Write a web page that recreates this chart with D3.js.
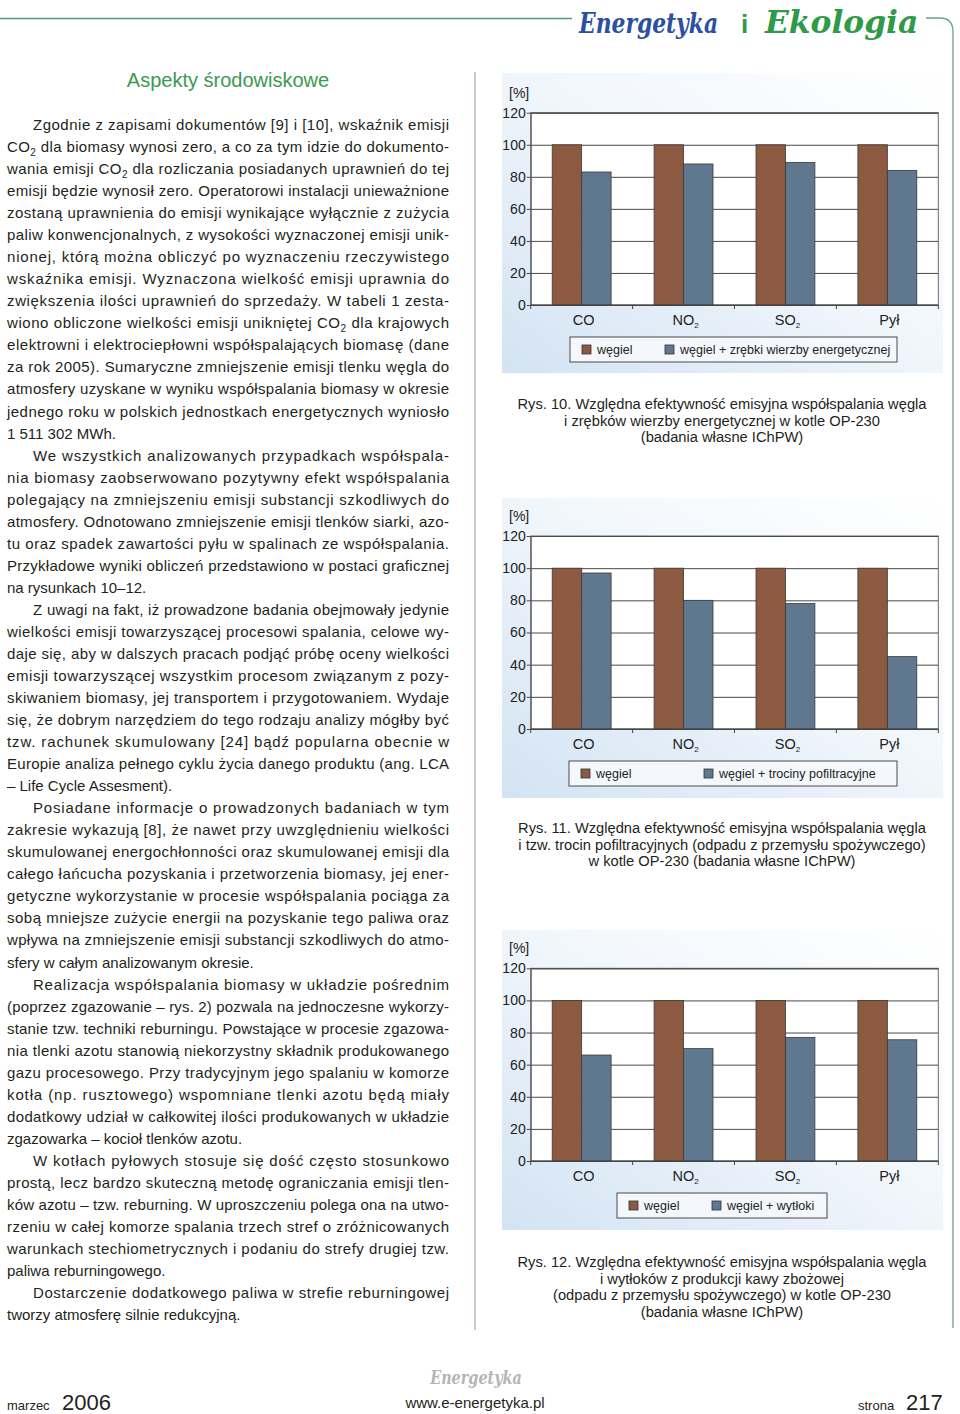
<!DOCTYPE html>
<html>
<head>
<meta charset="utf-8">
<script src="https://cdn.jsdelivr.net/npm/d3@7"></script>
<style>
  body { margin: 0; background: #fff; }
  svg { display: block; font-family: "Liberation Sans", Arial, sans-serif; }
</style>
</head>
<body>
<svg id="page" width="960" height="1414"></svg>
<script>
// chart data
const categories = ['CO', 'NO2', 'SO2', 'Pył'];
const yTicks = [0, 20, 40, 60, 80, 100, 120];
const coal = [100, 100, 100, 100];
const willowChips = [83, 88, 89, 84];
const filterSawdust = [97, 80, 78, 45];
const coffeePomace = [66, 70, 77, 75.5];

const seriesNames = ['węgiel', 'mix'];
const brown = '#8b5a41';
const blue = '#5f7890';

// body text lines of the left column (a = justified line, i = indented first line, e = paragraph end)
const bodyLines = [
  ['i', 'Zgodnie z zapisami dokumentów [9] i [10], wskaźnik emisji'],
  ['a', 'CO_2 dla biomasy wynosi zero, a co za tym idzie do dokumento-'],
  ['a', 'wania emisji CO_2 dla rozliczania posiadanych uprawnień do tej'],
  ['a', 'emisji będzie wynosił zero. Operatorowi instalacji unieważnione'],
  ['a', 'zostaną uprawnienia do emisji wynikające wyłącznie z zużycia'],
  ['a', 'paliw konwencjonalnych, z wysokości wyznaczonej emisji unik-'],
  ['a', 'nionej, którą można obliczyć po wyznaczeniu rzeczywistego'],
  ['a', 'wskaźnika emisji. Wyznaczona wielkość emisji uprawnia do'],
  ['a', 'zwiększenia ilości uprawnień do sprzedaży. W tabeli 1 zesta-'],
  ['a', 'wiono obliczone wielkości emisji unikniętej CO_2 dla krajowych'],
  ['a', 'elektrowni i elektrociepłowni współspalających biomasę (dane'],
  ['a', 'za rok 2005). Sumaryczne zmniejszenie emisji tlenku węgla do'],
  ['a', 'atmosfery uzyskane w wyniku współspalania biomasy w okresie'],
  ['a', 'jednego roku w polskich jednostkach energetycznych wyniosło'],
  ['e', '1 511 302 MWh.'],
  ['i', 'We wszystkich analizowanych przypadkach współspala-'],
  ['a', 'nia biomasy zaobserwowano pozytywny efekt współspalania'],
  ['a', 'polegający na zmniejszeniu emisji substancji szkodliwych do'],
  ['a', 'atmosfery. Odnotowano zmniejszenie emisji tlenków siarki, azo-'],
  ['a', 'tu oraz spadek zawartości pyłu w spalinach ze współspalania.'],
  ['a', 'Przykładowe wyniki obliczeń przedstawiono w postaci graficznej'],
  ['e', 'na rysunkach 10–12.'],
  ['i', 'Z uwagi na fakt, iż prowadzone badania obejmowały jedynie'],
  ['a', 'wielkości emisji towarzyszącej procesowi spalania, celowe wy-'],
  ['a', 'daje się, aby w dalszych pracach podjąć próbę oceny wielkości'],
  ['a', 'emisji towarzyszącej wszystkim procesom związanym z pozy-'],
  ['a', 'skiwaniem biomasy, jej transportem i przygotowaniem. Wydaje'],
  ['a', 'się, że dobrym narzędziem do tego rodzaju analizy mógłby być'],
  ['a', 'tzw. rachunek skumulowany [24] bądź popularna obecnie w'],
  ['a', 'Europie analiza pełnego cyklu życia danego produktu (ang. LCA'],
  ['e', '– Life Cycle Assesment).'],
  ['i', 'Posiadane informacje o prowadzonych badaniach w tym'],
  ['a', 'zakresie wykazują [8], że nawet przy uwzględnieniu wielkości'],
  ['a', 'skumulowanej energochłonności oraz skumulowanej emisji dla'],
  ['a', 'całego łańcucha pozyskania i przetworzenia biomasy, jej ener-'],
  ['a', 'getyczne wykorzystanie w procesie współspalania pociąga za'],
  ['a', 'sobą mniejsze zużycie energii na pozyskanie tego paliwa oraz'],
  ['a', 'wpływa na zmniejszenie emisji substancji szkodliwych do atmo-'],
  ['e', 'sfery w całym analizowanym okresie.'],
  ['i', 'Realizacja współspalania biomasy w układzie pośrednim'],
  ['a', '(poprzez zgazowanie – rys. 2) pozwala na jednoczesne wykorzy-'],
  ['a', 'stanie tzw. techniki reburningu. Powstające w procesie zgazowa-'],
  ['a', 'nia tlenki azotu stanowią niekorzystny składnik produkowanego'],
  ['a', 'gazu procesowego. Przy tradycyjnym jego spalaniu w komorze'],
  ['a', 'kotła (np. rusztowego) wspomniane tlenki azotu będą miały'],
  ['a', 'dodatkowy udział w całkowitej ilości produkowanych w układzie'],
  ['e', 'zgazowarka – kocioł tlenków azotu.'],
  ['i', 'W kotłach pyłowych stosuje się dość często stosunkowo'],
  ['a', 'prostą, lecz bardzo skuteczną metodę ograniczania emisji tlen-'],
  ['a', 'ków azotu – tzw. reburning. W uproszczeniu polega ona na utwo-'],
  ['a', 'rzeniu w całej komorze spalania trzech stref o zróżnicowanych'],
  ['a', 'warunkach stechiometrycznych i podaniu do strefy drugiej tzw.'],
  ['e', 'paliwa reburningowego.'],
  ['i', 'Dostarczenie dodatkowego paliwa w strefie reburningowej'],
  ['e', 'tworzy atmosferę silnie redukcyjną.']
];

const captions = [
  ['Rys. 10. Względna efektywność emisyjna współspalania węgla',
   'i zrębków wierzby energetycznej w kotle OP-230',
   '(badania własne IChPW)'],
  ['Rys. 11. Względna efektywność emisyjna współspalania węgla',
   'i tzw. trocin pofiltracyjnych (odpadu z przemysłu spożywczego)',
   'w kotle OP-230 (badania własne IChPW)'],
  ['Rys. 12. Względna efektywność emisyjna współspalania węgla',
   'i wytłoków z produkcji kawy zbożowej',
   '(odpadu z przemysłu spożywczego) w kotle OP-230',
   '(badania własne IChPW)']
];

const charts = [
  { values: willowChips, label: 'węgiel + zrębki wierzby energetycznej',
    panelTop: 73, top: 112.7, zero: 305,
    legend: { x: 570, w: 327, swatch2: 665 }, capY: 409 },
  { values: filterSawdust, label: 'węgiel + trociny pofiltracyjne',
    panelTop: 498, top: 536, zero: 729,
    legend: { x: 569, w: 328, swatch2: 704 }, capY: 833 },
  { values: coffeePomace, label: 'węgiel + wytłoki',
    panelTop: 930, top: 968.3, zero: 1161,
    legend: { x: 617, w: 210, swatch2: 712 }, capY: 1267 }
];

const svg = d3.select('#page');
const defs = svg.append('defs');
const grad = defs.append('linearGradient')
  .attr('id', 'panelGrad')
  .attr('x1', '1').attr('y1', '0').attr('x2', '0').attr('y2', '1');
grad.append('stop').attr('offset', '0').attr('stop-color', '#ffffff');
grad.append('stop').attr('offset', '0.45').attr('stop-color', '#f2f7fc');
grad.append('stop').attr('offset', '1').attr('stop-color', '#d3e3f3');

drawHeader();
drawBody();
charts.forEach((c, i) => drawChart(c, captions[i]));
drawFooter();

// text with "_2" written as a subscript
function addRich(textSel, str, subSize) {
  const parts = str.split('_2');
  parts.forEach((p, i) => {
    textSel.append('tspan').text(p);
    if (i < parts.length - 1) {
      textSel.append('tspan')
        .attr('font-size', subSize)
        .attr('baseline-shift', -4)
        .text('2');
    }
  });
}

function drawHeader() {
  const g = svg.append('g').attr('id', 'header');
  g.append('line')
    .attr('x1', 0).attr('x2', 572)
    .attr('y1', 18.5).attr('y2', 18.5)
    .attr('stroke', '#4f9873').attr('stroke-width', 1.5);
  g.append('path')
    .attr('d', 'M926,18 L940,18 Q953,18 953,32 L953,1328')
    .attr('fill', 'none')
    .attr('stroke', '#6aa285').attr('stroke-width', 1.3);

  g.append('g')
    .attr('transform', 'translate(579,33) scale(0.78,1)')
    .append('text')
    .attr('font-family', '"DejaVu Serif", serif')
    .attr('font-style', 'italic').attr('font-weight', 'bold')
    .attr('font-size', 28)
    .attr('fill', '#2b50a0')
    .text('Energetyka');
  g.append('text')
    .attr('x', 741).attr('y', 33)
    .attr('font-size', 26).attr('font-weight', 'bold')
    .attr('fill', '#2f9a48')
    .text('i');
  g.append('g')
    .attr('transform', 'translate(765,33) scale(1.01,1)')
    .append('text')
    .attr('font-family', '"DejaVu Serif", serif')
    .attr('font-style', 'italic').attr('font-weight', 'bold')
    .attr('font-size', 31)
    .attr('fill', '#2f9a48')
    .text('Ekologia');

  // column separator
  svg.append('line')
    .attr('x1', 475).attr('x2', 475)
    .attr('y1', 72).attr('y2', 1330)
    .attr('stroke', '#9aabbf').attr('stroke-width', 1.2);
}

function drawBody() {
  const g = svg.append('g').attr('id', 'body');
  g.append('text')
    .attr('x', 228).attr('y', 87)
    .attr('text-anchor', 'middle')
    .attr('font-size', 20)
    .attr('fill', '#3a9a52')
    .text('Aspekty środowiskowe');

  const lines = g.selectAll('text.line')
    .data(bodyLines)
    .enter().append('text')
    .attr('class', 'line')
    .attr('x', d => d[0] === 'i' ? 33 : 7)
    .attr('y', (d, i) => 130 + i * 22.04)
    .attr('font-size', 15)
    .attr('fill', '#231f20');

  lines.each(function(d) {
    const t = d3.select(this);
    addRich(t, d[1], 10);
    if (d[0] !== 'e') {
      t.attr('textLength', d[0] === 'i' ? 416 : 442)
       .attr('lengthAdjust', 'spacing');
    }
  });
}

function drawChart(c, caption) {
  const left = 530.7;
  const right = 938.3;

  const g = svg.append('g').attr('class', 'chart');

  g.append('rect')
    .attr('x', 502).attr('y', c.panelTop)
    .attr('width', 441).attr('height', 300)
    .attr('fill', 'url(#panelGrad)');

  const y = d3.scaleLinear().domain([0, 120]).range([c.zero, c.top]);
  const x = d3.scaleBand().domain(categories).range([left, right]).padding(0);
  const xs = d3.scaleBand().domain(seriesNames)
    .range([0, x.bandwidth()]).paddingInner(0).paddingOuter(0.73);

  // plot area
  g.append('rect')
    .attr('x', left).attr('y', y(120))
    .attr('width', right - left).attr('height', y(0) - y(120))
    .attr('fill', '#fff')
    .attr('stroke', '#6b6b6b').attr('stroke-width', 1);

  const yAxis = d3.axisLeft(y)
    .tickValues(yTicks)
    .tickSize(-(right - left))
    .tickPadding(5)
    .tickFormat(d3.format('d'));

  const ya = g.append('g')
    .attr('transform', 'translate(' + left + ',0)')
    .call(yAxis);
  ya.select('.domain').attr('stroke', '#555');
  ya.selectAll('.tick line').attr('stroke', '#4a4a4a');
  ya.selectAll('.tick text')
    .attr('font-size', 14)
    .attr('fill', '#222')
    .attr('font-family', '"Liberation Sans", Arial, sans-serif');
  // short outer tick marks
  ya.selectAll('.tick')
    .append('line')
    .attr('x1', -4).attr('x2', 0)
    .attr('stroke', '#4a4a4a');

  const rows = categories.map((cat, i) => ({ cat: cat, vals: [coal[i], c.values[i]] }));

  const groups = g.selectAll('.cat')
    .data(rows)
    .enter().append('g')
    .attr('class', 'cat')
    .attr('transform', d => 'translate(' + x(d.cat) + ',0)');

  groups.selectAll('rect')
    .data(d => d.vals.map((v, j) => ({ key: seriesNames[j], v: v })))
    .enter().append('rect')
    .attr('x', d => xs(d.key))
    .attr('width', xs.bandwidth())
    .attr('y', d => y(d.v))
    .attr('height', d => y(0) - y(d.v))
    .attr('fill', d => d.key === 'węgiel' ? brown : blue)
    .attr('stroke', '#3a3a3a')
    .attr('stroke-width', 0.8);

  // x axis
  const xa = g.append('g')
    .attr('transform', 'translate(0,' + y(0) + ')');
  xa.append('line')
    .attr('x1', left).attr('x2', right)
    .attr('stroke', '#444');
  const edges = [left].concat(categories.map(cat => x(cat) + x.bandwidth()));
  xa.selectAll('line.tk')
    .data(edges)
    .enter().append('line')
    .attr('class', 'tk')
    .attr('x1', d => d).attr('x2', d => d)
    .attr('y1', 0).attr('y2', 4)
    .attr('stroke', '#444');
  const labels = xa.selectAll('text')
    .data(categories)
    .enter().append('text')
    .attr('x', d => x(d) + x.bandwidth() / 2 + 2)
    .attr('y', 20)
    .attr('text-anchor', 'middle')
    .attr('font-size', 14.5)
    .attr('fill', '#222');
  labels.each(function(d) {
    const t = d3.select(this);
    if (d.endsWith('2')) {
      t.append('tspan').text(d.slice(0, -1));
      t.append('tspan').attr('font-size', 8).attr('baseline-shift', -3).text('2');
    } else {
      t.text(d);
    }
  });

  g.append('text')
    .attr('x', 509).attr('y', c.top - 15)
    .attr('font-size', 14)
    .attr('fill', '#222')
    .text('[%]');

  // legend
  const ly = c.zero + 32;
  const lg = g.append('g').attr('class', 'legend');
  lg.append('rect')
    .attr('x', c.legend.x).attr('y', ly)
    .attr('width', c.legend.w).attr('height', 25)
    .attr('fill', '#f4f8fc')
    .attr('stroke', '#4a4a4a').attr('stroke-width', 1);
  const items = [
    { x: c.legend.x + 12, fill: brown, text: 'węgiel' },
    { x: c.legend.swatch2, fill: blue, text: c.label }
  ];
  items.forEach(it => {
    lg.append('rect')
      .attr('x', it.x).attr('y', ly + 8)
      .attr('width', 9).attr('height', 9)
      .attr('fill', it.fill)
      .attr('stroke', '#333').attr('stroke-width', 0.8);
    lg.append('text')
      .attr('x', it.x + 15).attr('y', ly + 17)
      .attr('font-size', 12.5)
      .attr('fill', '#222')
      .text(it.text);
  });

  // caption
  g.selectAll('text.cap')
    .data(caption)
    .enter().append('text')
    .attr('class', 'cap')
    .attr('x', 722)
    .attr('y', (d, i) => c.capY + i * 16.5)
    .attr('text-anchor', 'middle')
    .attr('font-size', 14.7)
    .attr('fill', '#231f20')
    .text(d => d);
}

function drawFooter() {
  const g = svg.append('g').attr('id', 'footer');
  g.append('g')
    .attr('transform', 'translate(476,1384) scale(0.8,1)')
    .append('text')
    .attr('text-anchor', 'middle')
    .attr('font-family', '"DejaVu Serif", serif')
    .attr('font-style', 'italic').attr('font-weight', 'bold')
    .attr('font-size', 18)
    .attr('fill', '#b5b5b5')
    .text('Energetyka');

  const small = [
    { x: 7, text: 'marzec', size: 13 },
    { x: 62, text: '2006', size: 22 },
    { x: 858, text: 'strona', size: 13 },
    { x: 906, text: '217', size: 22 }
  ];
  g.selectAll('text.ft')
    .data(small)
    .enter().append('text')
    .attr('class', 'ft')
    .attr('x', d => d.x)
    .attr('y', 1410)
    .attr('font-size', d => d.size)
    .attr('fill', '#231f20')
    .text(d => d.text);

  g.append('text')
    .attr('x', 475).attr('y', 1408)
    .attr('text-anchor', 'middle')
    .attr('font-size', 15)
    .attr('fill', '#231f20')
    .text('www.e-energetyka.pl');
}
</script>
</body>
</html>
